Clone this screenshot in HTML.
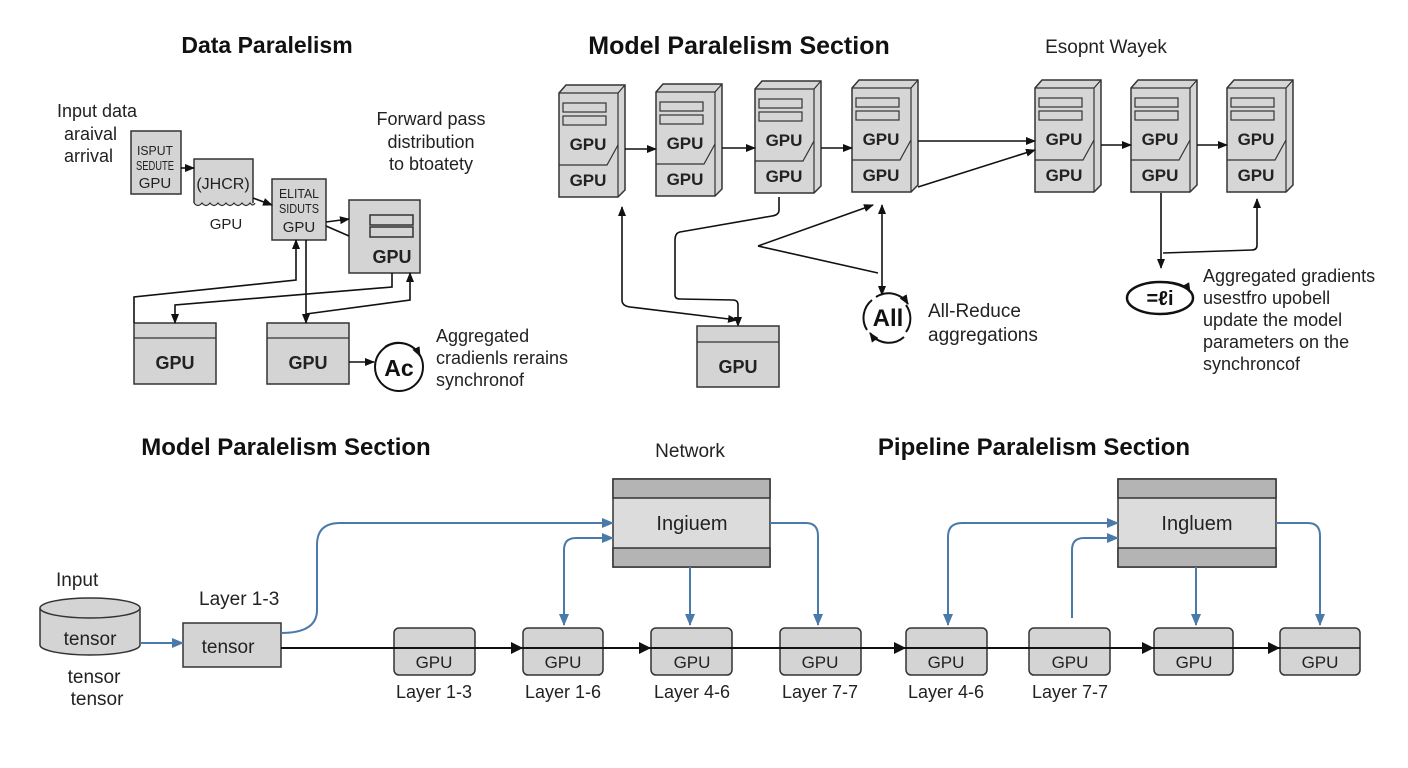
<!DOCTYPE html>
<html><head><meta charset="utf-8"><style>
html,body{margin:0;padding:0;background:#fff;}
svg{display:block;font-family:"Liberation Sans",Arial,sans-serif;}
</style></head><body>
<svg width="1408" height="768" viewBox="0 0 1408 768" xmlns="http://www.w3.org/2000/svg">
<defs>
<marker id="ah" markerWidth="10" markerHeight="8" refX="9" refY="4" orient="auto" markerUnits="userSpaceOnUse"><path d="M0,0 L10,4 L0,8 z" fill="#111"/></marker>
<marker id="bh" markerWidth="12" markerHeight="10" refX="11" refY="5" orient="auto" markerUnits="userSpaceOnUse"><path d="M0,0 L12,5 L0,10 z" fill="#4a7aaa"/></marker>
<g id="srv">
 <path d="M0,8 L7,0 L66,0 L66,105 L59,112 L0,112 Z" fill="#d6d6d6" stroke="#333" stroke-width="1.5"/>
 <path d="M0,8 L59,8 L66,0 M59,8 L59,112" fill="none" stroke="#333" stroke-width="1.2"/>
 <path d="M0,80 L48,80 L59,60" fill="none" stroke="#333" stroke-width="1.2"/>
 <rect x="4" y="18" width="43" height="9" fill="#d6d6d6" stroke="#333" stroke-width="1.2"/>
 <rect x="4" y="31" width="43" height="9" fill="#d6d6d6" stroke="#333" stroke-width="1.2"/>
 <text x="29" y="65" font-size="17" font-weight="bold" text-anchor="middle" fill="#222">GPU</text>
 <text x="29" y="101" font-size="17" font-weight="bold" text-anchor="middle" fill="#222">GPU</text>
</g>
</defs>

<!-- Titles -->
<text x="267" y="53" font-size="23" font-weight="bold" text-anchor="middle" fill="#111">Data Paralelism</text>
<text x="739" y="54" font-size="25" font-weight="bold" text-anchor="middle" fill="#111">Model Paralelism Section</text>
<text x="1106" y="53" font-size="19" text-anchor="middle" fill="#222">Esopnt Wayek</text>

<!-- Data parallelism -->
<g font-size="18" fill="#222">
<text x="57" y="117">Input data</text>
<text x="64" y="140">araival</text>
<text x="64" y="162">arrival</text>
<text x="431" y="125" text-anchor="middle">Forward pass</text>
<text x="431" y="148" text-anchor="middle">distribution</text>
<text x="431" y="170" text-anchor="middle">to btoatety</text>
<text x="436" y="342">Aggregated</text>
<text x="436" y="364">cradienls rerains</text>
<text x="436" y="386">synchronof</text>
</g>
<rect x="131" y="131" width="50" height="63" fill="#d4d4d4" stroke="#333" stroke-width="1.5"/>
<g font-size="13" fill="#222" text-anchor="middle">
<text x="155" y="155" textLength="36" lengthAdjust="spacingAndGlyphs">ISPUT</text><text x="155" y="170" textLength="38" lengthAdjust="spacingAndGlyphs">SEDUTE</text>
</g>
<text x="155" y="188" font-size="15" text-anchor="middle" fill="#222">GPU</text>
<path d="M194,203 L194,159 L253,159 L253,203" fill="#d4d4d4" stroke="#333" stroke-width="1.5"/>
<path d="M194,203 q4,5 8,0 q4,5 8,0 q4,5 8,0 q4,5 8,0 q4,5 8,0 q4,5 8,0 q4,5 8,0 q3,4 5,0" fill="#d4d4d4" stroke="#333" stroke-width="1.2"/>
<text x="223" y="189" font-size="16" text-anchor="middle" fill="#222">(JHCR)</text>
<text x="226" y="229" font-size="15" text-anchor="middle" fill="#222">GPU</text>
<rect x="272" y="179" width="54" height="61" fill="#d4d4d4" stroke="#333" stroke-width="1.5"/>
<g font-size="13" fill="#222" text-anchor="middle">
<text x="299" y="198" textLength="40" lengthAdjust="spacingAndGlyphs">ELITAL</text><text x="299" y="213" textLength="40" lengthAdjust="spacingAndGlyphs">SIDUTS</text>
</g>
<text x="299" y="232" font-size="15" text-anchor="middle" fill="#222">GPU</text>
<rect x="349" y="200" width="71" height="73" fill="#d4d4d4" stroke="#333" stroke-width="1.5"/>
<rect x="370" y="215" width="43" height="10" fill="#d4d4d4" stroke="#333" stroke-width="1.5"/>
<rect x="370" y="227" width="43" height="10" fill="#d4d4d4" stroke="#333" stroke-width="1.5"/>
<text x="392" y="263" font-size="18" font-weight="bold" text-anchor="middle" fill="#222">GPU</text>
<rect x="134" y="323" width="82" height="61" fill="#d4d4d4" stroke="#333" stroke-width="1.5"/>
<line x1="134" y1="338" x2="216" y2="338" stroke="#333" stroke-width="1.2"/>
<text x="175" y="369" font-size="18" font-weight="bold" text-anchor="middle" fill="#222">GPU</text>
<rect x="267" y="323" width="82" height="61" fill="#d4d4d4" stroke="#333" stroke-width="1.5"/>
<line x1="267" y1="338" x2="349" y2="338" stroke="#333" stroke-width="1.2"/>
<text x="308" y="369" font-size="18" font-weight="bold" text-anchor="middle" fill="#222">GPU</text>
<circle cx="399" cy="367" r="24" fill="#fff" stroke="#111" stroke-width="2"/>
<path d="M385,347 A24,24 0 0 1 420,356" fill="none" stroke="#111" stroke-width="2" marker-end="url(#ah)"/>
<text x="399" y="376" font-size="23" font-weight="bold" text-anchor="middle" fill="#111">Ac</text>
<g fill="none" stroke="#111" stroke-width="1.6">
<path d="M181,168 L194,168" marker-end="url(#ah)"/>
<path d="M253,198 L272,205" marker-end="url(#ah)"/>
<path d="M326,222 L349,219" marker-end="url(#ah)"/>
<path d="M326,226 L349,236"/>
<path d="M306,240 L306,323" marker-end="url(#ah)"/>
<path d="M306,314 L410,300 L410,273" marker-end="url(#ah)"/>
<path d="M134,323 L134,297 L296,280 L296,240" marker-end="url(#ah)"/>
<path d="M392,273 L392,287 L175,305 L175,323" marker-end="url(#ah)"/>
<path d="M349,362 L374,362" marker-end="url(#ah)"/>
</g>

<!-- Model parallelism servers -->
<use href="#srv" x="559" y="85"/>
<use href="#srv" x="656" y="84"/>
<use href="#srv" x="755" y="81"/>
<use href="#srv" x="852" y="80"/>
<use href="#srv" x="1035" y="80"/>
<use href="#srv" x="1131" y="80"/>
<use href="#srv" x="1227" y="80"/>
<g fill="none" stroke="#111" stroke-width="1.6">
<path d="M625,149 L656,149" marker-end="url(#ah)"/>
<path d="M722,148 L755,148" marker-end="url(#ah)"/>
<path d="M821,148 L852,148" marker-end="url(#ah)"/>
<path d="M918,141 L1035,141" marker-end="url(#ah)"/>
<path d="M918,187 L1035,150" marker-end="url(#ah)"/>
<path d="M1101,145 L1131,145" marker-end="url(#ah)"/>
<path d="M1197,145 L1227,145" marker-end="url(#ah)"/>
<path d="M622,300 L622,207" marker-end="url(#ah)"/>
<path d="M622,300 Q622,306 630,307 L737,320" marker-end="url(#ah)"/>
<path d="M779,197 L779,210 Q779,215 772,216 L680,232 Q675,233 675,240 L675,295 Q675,299 680,299 L733,300 Q738,300 738,305 L738,326" marker-end="url(#ah)"/>
<path d="M758,246 L873,205" marker-end="url(#ah)"/>
<path d="M758,246 L878,273"/>
<path d="M882,250 L882,205" marker-end="url(#ah)"/>
<path d="M882,250 L882,295" marker-end="url(#ah)"/>
<path d="M1161,193 L1161,268" marker-end="url(#ah)"/>
<path d="M1163,253 L1252,250 Q1257,250 1257,245 L1257,199" marker-end="url(#ah)"/>
</g>
<rect x="697" y="326" width="82" height="61" fill="#d4d4d4" stroke="#333" stroke-width="1.5"/>
<line x1="697" y1="342" x2="779" y2="342" stroke="#333" stroke-width="1.2"/>
<text x="738" y="373" font-size="18" font-weight="bold" text-anchor="middle" fill="#222">GPU</text>
<path d="M876,297 A23,23 0 0 1 908,304" fill="none" stroke="#111" stroke-width="2" marker-end="url(#ah)"/>
<path d="M904,337 A23,23 0 0 1 870,333" fill="none" stroke="#111" stroke-width="2" marker-end="url(#ah)"/>
<path d="M867,330 A23,23 0 0 1 872,300 M906,305 A23,23 0 0 1 906,332" fill="none" stroke="#111" stroke-width="2"/>
<text x="888" y="326" font-size="24" font-weight="bold" text-anchor="middle" fill="#111">All</text>
<text x="928" y="317" font-size="19" fill="#222">All-Reduce</text>
<text x="928" y="341" font-size="19" fill="#222">aggregations</text>
<ellipse cx="1160" cy="298" rx="33" ry="16" fill="#fff" stroke="#111" stroke-width="2.5"/>
<path d="M1165,282 Q1185,283 1190,292" fill="none" stroke="#111" stroke-width="2" marker-end="url(#ah)"/>
<text x="1160" y="305" font-size="20" font-weight="bold" text-anchor="middle" fill="#111">=ℓi</text>
<g font-size="18" fill="#222">
<text x="1203" y="282">Aggregated gradients</text>
<text x="1203" y="304">usestfro upobell</text>
<text x="1203" y="326">update the model</text>
<text x="1203" y="348">parameters on the</text>
<text x="1203" y="370">synchroncof</text>
</g>

<!-- Bottom section -->
<text x="286" y="455" font-size="24" font-weight="bold" text-anchor="middle" fill="#111">Model Paralelism Section</text>
<text x="690" y="457" font-size="19" text-anchor="middle" fill="#222">Network</text>
<text x="1034" y="455" font-size="24" font-weight="bold" text-anchor="middle" fill="#111">Pipeline Paralelism Section</text>

<text x="56" y="586" font-size="19" fill="#222">Input</text>
<path d="M40,608 L40,645 A50,10 0 0 0 140,645 L140,608" fill="#d4d4d4" stroke="#333" stroke-width="1.5"/>
<ellipse cx="90" cy="608" rx="50" ry="10" fill="#d4d4d4" stroke="#333" stroke-width="1.5"/>
<text x="90" y="645" font-size="19" text-anchor="middle" fill="#222">tensor</text>
<text x="94" y="683" font-size="19" text-anchor="middle" fill="#222">tensor</text>
<text x="97" y="705" font-size="19" text-anchor="middle" fill="#222">tensor</text>
<text x="199" y="605" font-size="19" fill="#222">Layer 1-3</text>
<rect x="183" y="623" width="98" height="44" fill="#d4d4d4" stroke="#333" stroke-width="1.5"/>
<text x="228" y="653" font-size="19" text-anchor="middle" fill="#222">tensor</text>

<!-- Ingiuem boxes -->
<g>
<rect x="613" y="479" width="157" height="88" fill="#dcdcdc" stroke="#333" stroke-width="1.5"/>
<rect x="613" y="479" width="157" height="19" fill="#b4b4b4" stroke="#333" stroke-width="1.5"/>
<rect x="613" y="548" width="157" height="19" fill="#b4b4b4" stroke="#333" stroke-width="1.5"/>
<text x="692" y="530" font-size="20" text-anchor="middle" fill="#222">Ingiuem</text>
<rect x="1118" y="479" width="158" height="88" fill="#dcdcdc" stroke="#333" stroke-width="1.5"/>
<rect x="1118" y="479" width="158" height="19" fill="#b4b4b4" stroke="#333" stroke-width="1.5"/>
<rect x="1118" y="548" width="158" height="19" fill="#b4b4b4" stroke="#333" stroke-width="1.5"/>
<text x="1197" y="530" font-size="20" text-anchor="middle" fill="#222">Ingluem</text>
</g>

<!-- GPU nodes -->
<g fill="#d4d4d4" stroke="#333" stroke-width="1.5">
<rect x="394" y="628" width="81" height="47" rx="5"/>
<rect x="523" y="628" width="80" height="47" rx="5"/>
<rect x="651" y="628" width="81" height="47" rx="5"/>
<rect x="780" y="628" width="81" height="47" rx="5"/>
<rect x="906" y="628" width="81" height="47" rx="5"/>
<rect x="1029" y="628" width="81" height="47" rx="5"/>
<rect x="1154" y="628" width="79" height="47" rx="5"/>
<rect x="1280" y="628" width="80" height="47" rx="5"/>
</g>
<line x1="1360" y1="648" x2="1280" y2="648" stroke="#111" stroke-width="1.5"/>
<path d="M281,648 L1280,648" stroke="#111" stroke-width="2" fill="none"/>
<g fill="#111">
<path d="M523,648 l-12,-6 l0,12 z"/><path d="M651,648 l-12,-6 l0,12 z"/>
<path d="M906,648 l-12,-6 l0,12 z"/><path d="M1154,648 l-12,-6 l0,12 z"/>
<path d="M1280,648 l-12,-6 l0,12 z"/>
</g>
<g font-size="17" text-anchor="middle" fill="#222">
<text x="434" y="668">GPU</text><text x="563" y="668">GPU</text><text x="692" y="668">GPU</text><text x="820" y="668">GPU</text>
<text x="946" y="668">GPU</text><text x="1070" y="668">GPU</text><text x="1194" y="668">GPU</text><text x="1320" y="668">GPU</text>
</g>
<g font-size="18" text-anchor="middle" fill="#222">
<text x="434" y="698">Layer 1-3</text><text x="563" y="698">Layer 1-6</text><text x="692" y="698">Layer 4-6</text>
<text x="820" y="698">Layer 7-7</text><text x="946" y="698">Layer 4-6</text><text x="1070" y="698">Layer 7-7</text>
</g>

<!-- Blue connectors -->
<g fill="none" stroke="#4a7aaa" stroke-width="2">
<path d="M140,643 L183,643" marker-end="url(#bh)"/>
<path d="M281,633 Q317,633 317,610 L317,545 Q317,523 340,523 L613,523" marker-end="url(#bh)"/>
<path d="M564,625 L564,550 Q564,538 576,538 L613,538" marker-end="url(#bh)"/>
<path d="M564,570 L564,625" marker-end="url(#bh)"/>
<path d="M690,567 L690,625" marker-end="url(#bh)"/>
<path d="M770,523 L806,523 Q818,523 818,536 L818,625" marker-end="url(#bh)"/>
<path d="M948,625 L948,537 Q948,523 962,523 L1118,523" marker-end="url(#bh)"/>
<path d="M948,560 L948,625" marker-end="url(#bh)"/>
<path d="M1072,618 L1072,550 Q1072,538 1084,538 L1118,538" marker-end="url(#bh)"/>
<path d="M1196,567 L1196,625" marker-end="url(#bh)"/>
<path d="M1276,523 L1308,523 Q1320,523 1320,536 L1320,625" marker-end="url(#bh)"/>
</g>
</svg>
</body></html>
